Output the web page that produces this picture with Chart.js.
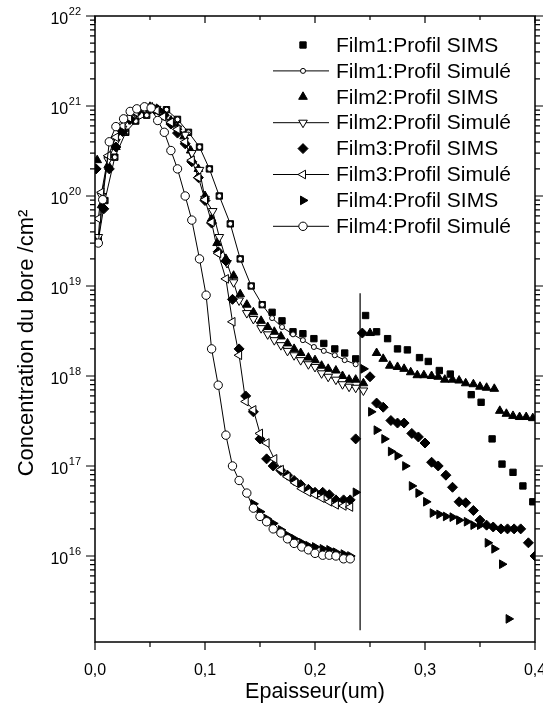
<!DOCTYPE html>
<html>
<head>
<meta charset="utf-8">
<script src="https://cdn.jsdelivr.net/npm/chart.js@4.4.1/dist/chart.umd.min.js"></script>
<style>
    html, body { margin: 0; padding: 0; background: #fff; }
    #wrap { position: relative; width: 543px; height: 712px; }
</style>
</head>
<body>
<div id="wrap"><canvas id="chart"></canvas></div>
<script>
    // Film1 (SIMS + simulé)
    const film1SimsX = [0.003, 0.009, 0.018, 0.028, 0.037, 0.047, 0.056, 0.065, 0.075, 0.085, 0.095, 0.104, 0.113, 0.123, 0.132, 0.142, 0.152, 0.161, 0.170, 0.180, 0.189, 0.199, 0.208, 0.218, 0.227, 0.237, 0.246, 0.256, 0.266, 0.275, 0.284, 0.295, 0.303, 0.313, 0.323, 0.342, 0.351, 0.361, 0.370, 0.380, 0.389, 0.398];
    const film1SimsY = [3.2e19, 8.9e19, 2.7e20, 5.1e20, 6.8e20, 7.9e20, 8.9e20, 9.1e20, 7.1e20, 5.1e20, 3.5e20, 2.0e20, 1.0e20, 4.9e19, 2.0e19, 1.0e19, 6.2e18, 5.1e18, 4.1e18, 3.1e18, 2.95e18, 2.6e18, 2.3e18, 2.0e18, 1.8e18, 1.55e18, 4.7e18, 3.1e18, 2.6e18, 2.0e18, 1.95e18, 1.6e18, 1.45e18, 1.15e18, 1.05e18, 6.2e17, 5.1e17, 2.0e17, 1.05e17, 8.5e16, 6.0e16, 4.0e16];
    const film1SimX = [0.003, 0.009, 0.018, 0.028, 0.037, 0.047, 0.056, 0.065, 0.075, 0.085, 0.095, 0.104, 0.113, 0.123, 0.132, 0.142, 0.152, 0.161, 0.170, 0.180, 0.189, 0.199, 0.208, 0.218, 0.227, 0.237];
    const film1SimY = [3.2e19, 8.9e19, 2.7e20, 5.1e20, 6.8e20, 7.9e20, 8.9e20, 9.1e20, 7.1e20, 5.1e20, 3.5e20, 2.0e20, 1.0e20, 4.9e19, 2.0e19, 1.0e19, 6.2e18, 4.4e18, 3.5e18, 2.9e18, 2.5e18, 2.1e18, 1.9e18, 1.7e18, 1.5e18, 1.35e18];

    // Film2
    const film2SimsX = [0.002, 0.006, 0.012, 0.019, 0.025, 0.031, 0.037, 0.044, 0.050, 0.056, 0.062, 0.069, 0.075, 0.081, 0.087, 0.094, 0.100, 0.106, 0.111, 0.119, 0.126, 0.132, 0.138, 0.144, 0.151, 0.157, 0.163, 0.169, 0.175, 0.181, 0.187, 0.194, 0.200, 0.206, 0.212, 0.219, 0.225, 0.231, 0.237, 0.244, 0.250, 0.256, 0.262, 0.268, 0.275, 0.281, 0.287, 0.293, 0.299, 0.306, 0.312, 0.318, 0.325, 0.331, 0.337, 0.344, 0.350, 0.356, 0.363, 0.368, 0.374, 0.380, 0.386, 0.392, 0.398];
    const film2SimsY = [2.5e20, 7.9e19, 2.2e20, 3.5e20, 5.2e20, 7.1e20, 8.5e20, 9.3e20, 9.8e20, 9.3e20, 8.3e20, 6.9e20, 5.8e20, 4.6e20, 3.2e20, 2.0e20, 1.0e20, 5.6e19, 3.0e19, 2.0e19, 1.3e19, 8.1e18, 6.2e18, 5.1e18, 4.1e18, 3.5e18, 3.1e18, 2.75e18, 2.3e18, 2.0e18, 1.8e18, 1.6e18, 1.5e18, 1.3e18, 1.2e18, 1.15e18, 1.0e18, 9.1e17, 9.1e17, 8.3e17, 3.0e18, 1.8e18, 1.55e18, 1.3e18, 1.26e18, 1.2e18, 1.1e18, 1.02e18, 1.02e18, 1.0e18, 9.8e17, 9.1e17, 9.1e17, 8.9e17, 8.3e17, 8.1e17, 7.6e17, 7.4e17, 7.2e17, 4.1e17, 3.8e17, 3.6e17, 3.5e17, 3.5e17, 3.4e17];
    const film2SimX = [0.003, 0.006, 0.012, 0.019, 0.025, 0.031, 0.037, 0.044, 0.050, 0.056, 0.062, 0.069, 0.075, 0.082, 0.088, 0.095, 0.100, 0.107, 0.113, 0.120, 0.126, 0.131, 0.138, 0.144, 0.151, 0.157, 0.163, 0.169, 0.175, 0.181, 0.187, 0.194, 0.200, 0.206, 0.212, 0.219, 0.225, 0.231, 0.237, 0.244];
    const film2SimY = [3.5e19, 1.0e20, 2.5e20, 4.0e20, 5.6e20, 7.1e20, 8.3e20, 9.3e20, 9.8e20, 9.3e20, 7.9e20, 6.6e20, 5.6e20, 4.8e20, 3.0e20, 1.95e20, 9.3e19, 6.8e19, 3.5e19, 1.8e19, 1.1e19, 6.9e18, 5.0e18, 4.3e18, 3.4e18, 2.9e18, 2.5e18, 2.2e18, 1.9e18, 1.7e18, 1.5e18, 1.35e18, 1.26e18, 1.07e18, 9.8e17, 9.1e17, 8.1e17, 7.6e17, 7.4e17, 6.9e17];

    // Film3
    const film3SimsX = [0.001, 0.008, 0.013, 0.019, 0.025, 0.032, 0.038, 0.044, 0.050, 0.057, 0.063, 0.069, 0.075, 0.082, 0.088, 0.094, 0.100, 0.106, 0.112, 0.119, 0.125, 0.131, 0.137, 0.144, 0.150, 0.156, 0.162, 0.169, 0.175, 0.181, 0.187, 0.194, 0.200, 0.207, 0.213, 0.219, 0.226, 0.232, 0.237, 0.243, 0.250, 0.256, 0.262, 0.269, 0.275, 0.281, 0.288, 0.294, 0.300, 0.306, 0.312, 0.319, 0.325, 0.331, 0.337, 0.344, 0.350, 0.356, 0.362, 0.369, 0.375, 0.381, 0.387, 0.394, 0.400];
    const film3SimsY = [2.0e20, 7.2e19, 2.0e20, 3.5e20, 5.2e20, 7.1e20, 8.5e20, 9.3e20, 9.5e20, 9.1e20, 7.9e20, 6.3e20, 5.0e20, 3.8e20, 2.4e20, 1.6e20, 8.9e19, 5.0e19, 2.4e19, 1.9e19, 7.1e18, 2.0e18, 6.0e17, 4.0e17, 2.0e17, 1.2e17, 1.0e17, 8.9e16, 7.9e16, 6.9e16, 6.2e16, 5.5e16, 5.1e16, 5.1e16, 4.8e16, 4.2e16, 4.2e16, 4.2e16, 2.0e17, 3.0e18, 9.8e17, 5.0e17, 4.5e17, 3.2e17, 3.0e17, 3.0e17, 2.3e17, 2.1e17, 1.8e17, 1.1e17, 1.0e17, 7.9e16, 5.8e16, 4.0e16, 3.9e16, 3.2e16, 2.5e16, 2.2e16, 2.1e16, 2.0e16, 2.0e16, 2.0e16, 2.0e16, 1.4e16, 1.0e16];
    const film3SimX = [0.003, 0.006, 0.012, 0.019, 0.025, 0.031, 0.037, 0.044, 0.050, 0.056, 0.062, 0.069, 0.075, 0.082, 0.088, 0.094, 0.100, 0.106, 0.112, 0.119, 0.125, 0.131, 0.137, 0.144, 0.150, 0.156, 0.163, 0.169, 0.175, 0.182, 0.188, 0.194, 0.200, 0.206, 0.213, 0.219, 0.226, 0.232];
    const film3SimY = [5.6e19, 1.1e20, 2.8e20, 4.5e20, 6.0e20, 7.4e20, 8.5e20, 9.3e20, 9.8e20, 8.9e20, 7.6e20, 6.6e20, 5.5e20, 4.0e20, 2.5e20, 1.6e20, 9.1e19, 5.1e19, 2.3e19, 1.2e19, 4.0e18, 1.7e18, 5.2e17, 4.2e17, 2.3e17, 1.8e17, 1.2e17, 9.1e16, 7.6e16, 6.5e16, 5.6e16, 5.1e16, 4.8e16, 4.4e16, 4.0e16, 3.7e16, 3.6e16, 3.5e16];

    // Film4
    const film4SimsX = [0.144, 0.150, 0.156, 0.162, 0.169, 0.175, 0.181, 0.188, 0.194, 0.200, 0.207, 0.213, 0.219, 0.226, 0.232, 0.237, 0.244, 0.251, 0.256, 0.263, 0.269, 0.275, 0.282, 0.288, 0.294, 0.301, 0.307, 0.313, 0.319, 0.325, 0.331, 0.338, 0.344, 0.350, 0.357, 0.363, 0.370, 0.376];
    const film4SimsY = [3.8e16, 3.1e16, 2.6e16, 2.3e16, 1.95e16, 1.7e16, 1.55e16, 1.4e16, 1.3e16, 1.26e16, 1.2e16, 1.17e16, 1.1e16, 1.05e16, 1.0e16, 5.1e16, 1.2e18, 4.0e17, 2.5e17, 2.0e17, 1.45e17, 1.3e17, 1.0e17, 6.0e16, 5.0e16, 4.0e16, 3.0e16, 2.9e16, 2.75e16, 2.7e16, 2.5e16, 2.4e16, 2.2e16, 2.2e16, 1.4e16, 1.2e16, 8.1e15, 2.0e15];
    const film4SimX = [0.003, 0.007, 0.013, 0.019, 0.026, 0.032, 0.038, 0.045, 0.051, 0.057, 0.063, 0.069, 0.075, 0.082, 0.088, 0.095, 0.101, 0.106, 0.112, 0.119, 0.125, 0.131, 0.138, 0.144, 0.150, 0.156, 0.162, 0.169, 0.175, 0.181, 0.188, 0.194, 0.200, 0.207, 0.213, 0.219, 0.226, 0.232];
    const film4SimY = [3.0e19, 9.1e19, 4.0e20, 5.9e20, 7.2e20, 8.7e20, 9.3e20, 9.8e20, 9.5e20, 6.9e20, 5.1e20, 3.2e20, 2.0e20, 1.0e20, 5.4e19, 2.0e19, 7.9e18, 2.0e18, 7.9e17, 2.2e17, 1.0e17, 6.9e16, 5.0e16, 3.4e16, 2.75e16, 2.4e16, 2.0e16, 1.8e16, 1.55e16, 1.38e16, 1.26e16, 1.17e16, 1.07e16, 1.02e16, 1.02e16, 1.0e16, 9.3e15, 9.3e15];

    // trait vertical (interface)
    const separatorX = [0.241, 0.241];
    const separatorY = [8.3e18, 1.5e15];

    // axes
    const xTickValues = [0, 0.1, 0.2, 0.3, 0.4];
    const xTickLabels = ['0,0', '0,1', '0,2', '0,3', '0,4'];
    const xMinorValues = [0.05, 0.15, 0.25, 0.35];
    const yDecades = [16, 17, 18, 19, 20, 21, 22];

    const FONT = '"Liberation Sans", Arial, Helvetica, sans-serif';

    function pts(xs, ys) {
        return xs.map((x, i) => ({ x: x, y: ys[i] }));
    }

    function sims(label, xs, ys, style, radius, rot) {
        return {
            label: label, data: pts(xs, ys), showLine: false,
            pointStyle: style, pointRadius: radius, pointRotation: rot || 0,
            pointBackgroundColor: '#000', pointBorderColor: '#000', pointBorderWidth: 1
        };
    }

    function simule(label, xs, ys, style, radius, rot) {
        return {
            label: label, data: pts(xs, ys), showLine: true, tension: 0,
            borderColor: '#000', borderWidth: 1,
            pointStyle: style, pointRadius: radius, pointRotation: rot || 0,
            pointBackgroundColor: '#fff', pointBorderColor: '#000', pointBorderWidth: 1
        };
    }

    const datasets = [
        sims('Film1:Profil SIMS', film1SimsX, film1SimsY, 'rect', 4.5),
        simule('Film1:Profil Simulé', film1SimX, film1SimY, 'circle', 2.5),
        sims('Film2:Profil SIMS', film2SimsX, film2SimsY, 'triangle', 5),
        simule('Film2:Profil Simulé', film2SimX, film2SimY, 'triangle', 5, 180),
        sims('Film3:Profil SIMS', film3SimsX, film3SimsY, 'rectRot', 5),
        simule('Film3:Profil Simulé', film3SimX, film3SimY, 'triangle', 5, 270),
        sims('Film4:Profil SIMS', film4SimsX, film4SimsY, 'triangle', 5, 90),
        simule('Film4:Profil Simulé', film4SimX, film4SimY, 'circle', 4.2)
    ];
    datasets.forEach((d, i) => { d.order = -i; d.inLegend = true; });
    datasets.push({
        label: 'interface', data: pts(separatorX, separatorY), showLine: true,
        borderColor: '#000', borderWidth: 1.2, pointRadius: 0, order: 5, inLegend: false
    });

    // cadre, graduations et textes des axes
    const axesDeco = {
        id: 'axesDeco',
        afterDraw(chart) {
            const { ctx, chartArea: a, scales: { x, y } } = chart;
            ctx.save();
            ctx.strokeStyle = '#000';
            ctx.fillStyle = '#000';
            ctx.lineWidth = 1.5;
            ctx.strokeRect(a.left, a.top, a.right - a.left, a.bottom - a.top);

            ctx.lineWidth = 1.2;
            ctx.beginPath();
            xTickValues.forEach(v => {
                const px = x.getPixelForValue(v);
                ctx.moveTo(px, a.bottom); ctx.lineTo(px, a.bottom + 8);
                ctx.moveTo(px, a.top); ctx.lineTo(px, a.top + 7);
            });
            xMinorValues.forEach(v => {
                const px = x.getPixelForValue(v);
                ctx.moveTo(px, a.bottom); ctx.lineTo(px, a.bottom + 5);
                ctx.moveTo(px, a.top); ctx.lineTo(px, a.top + 4);
            });
            yDecades.forEach(e => {
                const py = y.getPixelForValue(Math.pow(10, e));
                ctx.moveTo(a.left - 9, py); ctx.lineTo(a.left, py);
                ctx.moveTo(a.right, py); ctx.lineTo(a.right + 9, py);
                for (let m = 2; m <= 9; m++) {
                    const v = m * Math.pow(10, e - 1);
                    if (v < y.min || v > y.max) continue;
                    const pm = y.getPixelForValue(v);
                    ctx.moveTo(a.left - 5, pm); ctx.lineTo(a.left, pm);
                    ctx.moveTo(a.right, pm); ctx.lineTo(a.right + 5, pm);
                }
            });
            ctx.stroke();

            // étiquettes X
            ctx.font = '16px ' + FONT;
            ctx.textAlign = 'center';
            ctx.textBaseline = 'alphabetic';
            xTickValues.forEach((v, i) => {
                ctx.fillText(xTickLabels[i], x.getPixelForValue(v), a.bottom + 33);
            });

            // étiquettes Y (10 puissance n)
            ctx.textAlign = 'right';
            yDecades.forEach(e => {
                const py = y.getPixelForValue(Math.pow(10, e));
                ctx.font = '11px ' + FONT;
                const ew = ctx.measureText(String(e)).width;
                ctx.fillText(String(e), 81, py - 1);
                ctx.font = '16px ' + FONT;
                ctx.fillText('10', 81 - ew - 0.5, py + 8);
            });

            // titres
            ctx.font = '21.5px ' + FONT;
            ctx.textAlign = 'center';
            ctx.fillText('Epaisseur(um)', (a.left + a.right) / 2, 698);

            ctx.font = '22px ' + FONT;
            ctx.translate(33, 343);
            ctx.rotate(-Math.PI / 2);
            ctx.fillText('Concentration du bore /cm²', 0, 0);
            ctx.restore();
        }
    };

    // légende dans le cadre
    const legendDeco = {
        id: 'legendDeco',
        afterDraw(chart) {
            const ctx = chart.ctx;
            ctx.save();
            ctx.font = '21px ' + FONT;
            ctx.textAlign = 'left';
            ctx.textBaseline = 'middle';
            let row = 0;
            chart.data.datasets.forEach(ds => {
                if (!ds.inLegend) return;
                const cy = 45 + row * 25.9;
                ctx.strokeStyle = '#000';
                if (ds.showLine) {
                    ctx.lineWidth = 1;
                    ctx.beginPath();
                    ctx.moveTo(273, cy); ctx.lineTo(329, cy);
                    ctx.stroke();
                }
                ctx.fillStyle = ds.pointBackgroundColor;
                ctx.lineWidth = 1;
                Chart.helpers.drawPoint(ctx, {
                    pointStyle: ds.pointStyle, radius: ds.pointRadius,
                    rotation: ds.pointRotation, borderWidth: 1
                }, 303, cy);
                ctx.fillStyle = '#000';
                ctx.fillText(ds.label, 336, cy + 1);
                row++;
            });
            ctx.restore();
        }
    };

    const ctx = document.getElementById('chart').getContext('2d');
    const myChart = new Chart(ctx, {
        type: 'scatter',
        data: { datasets: datasets },
        plugins: [axesDeco, legendDeco],
        options: {
            responsive: true,
            maintainAspectRatio: false,
            animation: false,
            events: [],
            layout: { padding: { left: 95, top: 16, right: 8, bottom: 70 } },
            plugins: { legend: { display: false }, tooltip: { enabled: false } },
            scales: {
                x: { type: 'linear', min: 0, max: 0.4, display: false },
                y: { type: 'logarithmic', min: 1.107e15, max: 1e22, display: false }
            }
        }
    });
</script>
</body>
</html>
